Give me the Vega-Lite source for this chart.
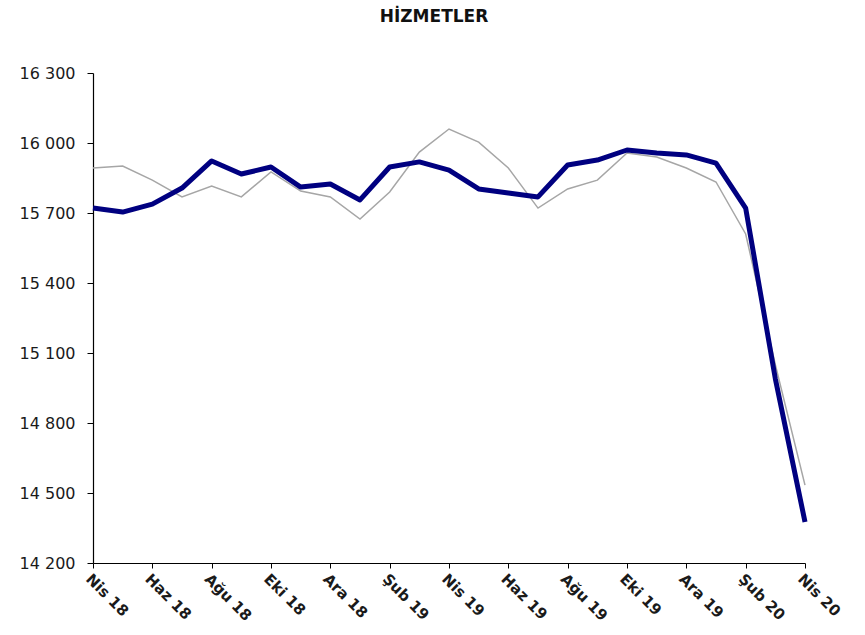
{
  "$schema": "https://vega.github.io/schema/vega-lite/v6.json",
  "width": 712,
  "height": 490,
  "autosize": {"type": "none"},
  "padding": {"left": 93, "top": 73, "right": 60, "bottom": 72},
  "background": "white",
  "title": {
    "text": "HİZMETLER",
    "font": "DejaVu Sans",
    "fontSize": 17,
    "fontWeight": "bold",
    "color": "#111111",
    "offset": 39,
    "dx": -15
  },
  "config": {
    "view": {"stroke": null},
    "axis": {"grid": false, "domainColor": "#000000", "tickColor": "#000000", "labelFont": "DejaVu Sans", "labelColor": "#1a1a1a"}
  },
  "data": {
    "values": [
      {"month": "Nis 18", "a": 15721, "b": 15893},
      {"month": "May 18", "a": 15704, "b": 15901},
      {"month": "Haz 18", "a": 15738, "b": 15841},
      {"month": "Tem 18", "a": 15807, "b": 15769},
      {"month": "Ağu 18", "a": 15923, "b": 15816},
      {"month": "Eyl 18", "a": 15867, "b": 15769},
      {"month": "Eki 18", "a": 15897, "b": 15876},
      {"month": "Kas 18", "a": 15811, "b": 15794},
      {"month": "Ara 18", "a": 15824, "b": 15769},
      {"month": "Oca 19", "a": 15756, "b": 15674},
      {"month": "Şub 19", "a": 15897, "b": 15790},
      {"month": "Mar 19", "a": 15919, "b": 15961},
      {"month": "Nis 19", "a": 15884, "b": 16060},
      {"month": "May 19", "a": 15803, "b": 16004},
      {"month": "Haz 19", "a": 15786, "b": 15893},
      {"month": "Tem 19", "a": 15769, "b": 15721},
      {"month": "Ağu 19", "a": 15906, "b": 15803},
      {"month": "Eyl 19", "a": 15927, "b": 15841},
      {"month": "Eki 19", "a": 15970, "b": 15957},
      {"month": "Kas 19", "a": 15957, "b": 15940},
      {"month": "Ara 19", "a": 15949, "b": 15893},
      {"month": "Oca 20", "a": 15914, "b": 15833},
      {"month": "Şub 20", "a": 15721, "b": 15610},
      {"month": "Mar 20", "a": 14990, "b": 15050},
      {"month": "Nis 20", "a": 14376, "b": 14534}
    ]
  },
  "encoding": {
    "x": {
      "field": "month",
      "type": "ordinal",
      "sort": null,
      "scale": {"type": "point", "padding": 0},
      "axis": {
        "title": null,
        "values": ["Nis 18", "Haz 18", "Ağu 18", "Eki 18", "Ara 18", "Şub 19", "Nis 19", "Haz 19", "Ağu 19", "Eki 19", "Ara 19", "Şub 20", "Nis 20"],
        "labelAngle": 45,
        "labelAlign": "left",
        "labelBaseline": "top",
        "labelFontSize": 15,
        "labelFontWeight": "bold",
        "labelPadding": 3,
        "labelFlush": false,
        "labelOverlap": false,
        "tickSize": 5,
        "domainWidth": 1.2
      }
    }
  },
  "layer": [
    {
      "mark": {"type": "line", "color": "#a6a6a6", "strokeWidth": 1.5},
      "encoding": {
        "y": {
          "field": "b",
          "type": "quantitative",
          "scale": {"domain": [14200, 16300], "nice": false, "zero": false},
          "axis": {
            "title": null,
            "values": [14200, 14500, 14800, 15100, 15400, 15700, 16000, 16300],
            "labelExpr": "replace(format(datum.value, ','), ',', ' ')",
            "labelFontSize": 16,
            "labelPadding": 12,
            "labelFlush": false,
            "tickSize": 6,
            "domainWidth": 1.2
          }
        }
      }
    },
    {
      "mark": {"type": "line", "color": "#000080", "strokeWidth": 5, "strokeJoin": "round"},
      "encoding": {
        "y": {"field": "a", "type": "quantitative"}
      }
    }
  ]
}
